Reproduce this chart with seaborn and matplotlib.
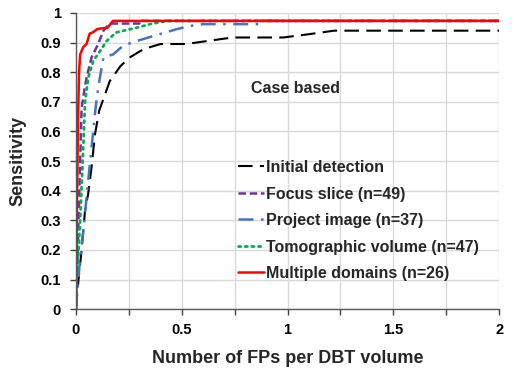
import matplotlib
matplotlib.use("Agg")
import matplotlib.pyplot as plt
import seaborn as sns
import pandas as pd
from matplotlib.ticker import MultipleLocator

# Curve data (x = FPs per DBT volume, y = sensitivity)
init_x = [0, 0.003, 0.015, 0.027, 0.043, 0.058, 0.074, 0.09, 0.11, 0.13, 0.16, 0.21, 0.255,
          0.32, 0.40, 0.52, 0.62, 0.74, 0.98, 1.1, 1.22, 2.0]
init_y = [0, 0.03, 0.12, 0.2, 0.333, 0.39, 0.48, 0.59, 0.67, 0.71, 0.77, 0.82, 0.85,
          0.878, 0.895, 0.895, 0.905, 0.917, 0.917, 0.928, 0.94, 0.94]

focus_x = [0, 0.005, 0.012, 0.02, 0.027, 0.04, 0.05, 0.074, 0.105, 0.13, 0.16, 0.3, 0.3, 2.0]
focus_y = [0, 0.1, 0.3, 0.5, 0.68, 0.74, 0.78, 0.85, 0.895, 0.94, 0.964, 0.964, 0.973, 0.973]

proj_x = [0, 0.003, 0.019, 0.035, 0.058, 0.074, 0.09, 0.1, 0.113, 0.13, 0.176, 0.224, 0.287,
          0.38, 0.476, 0.54, 0.6, 0.87, 0.87, 2.0]
proj_y = [0, 0.03, 0.165, 0.266, 0.434, 0.546, 0.66, 0.72, 0.78, 0.85, 0.86, 0.89, 0.905,
          0.925, 0.945, 0.956, 0.962, 0.962, 0.973, 0.973]

tomo_x = [0, 0.003, 0.01, 0.02, 0.035, 0.043, 0.058, 0.082, 0.113, 0.145, 0.19, 0.287, 0.35,
          0.43, 2.0]
tomo_y = [0, 0.1, 0.17, 0.3, 0.55, 0.70, 0.78, 0.838, 0.87, 0.905, 0.934, 0.95, 0.962,
          0.973, 0.973]

multi_x = [0, 0.005, 0.01, 0.015, 0.02, 0.035, 0.05, 0.065, 0.082, 0.1, 0.113, 0.15, 0.16,
           0.175, 2.0]
multi_y = [0, 0.35, 0.65, 0.80, 0.86, 0.885, 0.895, 0.93, 0.935, 0.945, 0.947, 0.95, 0.96,
           0.973, 0.973]

labels = ["Initial detection", "Focus slice (n=49)", "Project image (n=37)",
          "Tomographic volume (n=47)", "Multiple domains (n=26)"]

sns.set_style("whitegrid")
plt.rcParams["font.family"] = ["Liberation Sans", "DejaVu Sans"]
plt.rcParams["font.weight"] = "bold"

fig = plt.figure(figsize=(5.2, 3.79), dpi=100)
ax = fig.add_axes([0.146, 0.184, 0.814, 0.782])

styles = [
    dict(color="black", lw=1.5, dashes=(7, 3.5)),
    dict(color="#7030A0", lw=1.8, dashes=(3, 1.5)),
    dict(color="#4472C4", lw=1.8, dashes=(6, 3, 1, 3)),
    dict(color="#00B050", lw=2.0, dashes=(0.8, 1.6), dash_capstyle="round"),
    dict(color="#FF0000", lw=1.8),
]
series = [(init_x, init_y), (focus_x, focus_y), (proj_x, proj_y),
          (tomo_x, tomo_y), (multi_x, multi_y)]

for (xs, ys), lab, st in zip(series, labels, styles):
    df = pd.DataFrame({"x": xs, "y": ys})
    st = dict(st)
    dashes = st.pop("dashes", None)
    sns.lineplot(data=df, x="x", y="y", ax=ax, sort=False, estimator=None,
                 label=lab, **st)
    if dashes is not None:
        ax.lines[-1].set_dashes(dashes)

ax.set_xlim(0, 2)
ax.set_ylim(0, 1)
ax.xaxis.set_minor_locator(MultipleLocator(0.25))
ax.set_xticks([0, 0.5, 1, 1.5, 2])
ax.set_xticklabels(["0", "0.5", "1", "1.5", "2"])
ax.set_yticks([i / 10 for i in range(11)])
ax.set_yticklabels(["0"] + [f"{i/10:g}" for i in range(1, 10)] + ["1"])

ax.grid(which="both", color="#d9d9d9", lw=1.0)
ax.tick_params(axis="both", which="both", labelsize=10.5, colors="#404040",
               labelcolor="black", direction="out")
ax.tick_params(axis="x", which="both", length=4, width=1, pad=6, bottom=True)
ax.tick_params(axis="y", length=4, width=1, pad=7, left=True)
for lbl in ax.get_xticklabels() + ax.get_yticklabels():
    lbl.set_fontweight("bold")

for s in ["top", "right"]:
    ax.spines[s].set_visible(False)
for s in ["left", "bottom"]:
    ax.spines[s].set_color("#595959")
    ax.spines[s].set_linewidth(1.0)

ax.set_xlabel("Number of FPs per DBT volume", fontsize=13, fontweight="bold", labelpad=9)
ax.set_ylabel("Sensitivity", fontsize=13, fontweight="bold", labelpad=10)

ax.text(0.825, 0.73, "Case based", fontsize=11.5, fontweight="bold")

ax.legend(loc="upper left", bbox_to_anchor=(0.368, 0.525), frameon=False,
          prop={"size": 11.5, "weight": "bold"}, handlelength=1.6,
          handletextpad=0.15, labelspacing=0.72, borderaxespad=0)

fig.savefig("out.png", dpi=100)
